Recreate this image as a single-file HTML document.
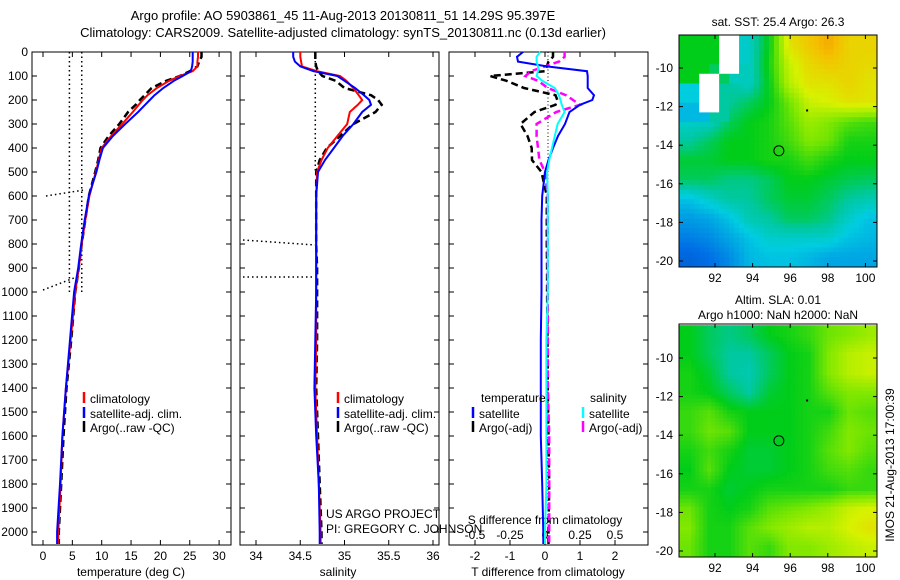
<!DOCTYPE html>
<html><head><meta charset="utf-8"><style>
body{margin:0;background:#fff;width:900px;height:580px;overflow:hidden}
svg{display:block;font-family:"Liberation Sans",sans-serif}
</style></head><body>
<svg id="chart" width="900" height="580"></svg>
<script>
const depths=[0,20,40,60,80,100,120,150,180,200,220,250,300,350,400,450,500,600,700,800,900,1000,1200,1400,1600,1800,2000,2050];
const tempClim=[26.4,26.4,26.3,26.3,25.5,23.3,21.5,19.4,17.8,17,16.3,15.3,13.5,11.6,10,9.5,9,7.9,7.2,6.6,6.1,5.5,4.7,3.9,3.3,3.0,2.6,2.6];
const tempSat=[25.5,25.5,25.5,25.4,25.2,23.8,22.3,20.5,19.0,18.2,17.4,16.2,14,11.9,10.2,9.6,9.1,7.8,7.1,6.5,6.0,5.3,4.6,3.9,3.3,2.9,2.4,2.4];
const tempArgo=[27,27,26.6,26.3,25,23.3,21,18.5,17.3,16.5,15.8,14.5,13,11.2,9.8,9.4,8.9,7.8,7.2,6.6,6.1,5.5,4.8,4.0,3.5,3.1,2.7,2.7];
const salClim=[34.5,34.5,34.51,34.52,34.69,34.95,35.02,35.1,35.16,35.2,35.15,35.06,35.03,34.92,34.81,34.74,34.69,34.68,34.68,34.68,34.68,34.68,34.68,34.67,34.69,34.71,34.73,34.73];
const salSat=[34.42,34.42,34.44,34.5,34.65,34.92,35.0,35.12,35.22,35.28,35.3,35.2,35.1,34.98,34.88,34.78,34.7,34.68,34.68,34.68,34.68,34.68,34.67,34.66,34.68,34.71,34.72,34.72];
const salArgo=[34.67,34.67,34.67,34.68,34.7,34.75,34.9,35.0,35.3,35.38,35.42,35.35,35.1,34.95,34.8,34.72,34.68,34.68,34.68,34.68,34.69,34.69,34.69,34.68,34.7,34.72,34.74,34.74];
const tDiffSat=[-0.63,-0.8,-0.77,0.05,1.2,1.22,1.22,1.22,1.4,1.35,1.0,0.7,0.57,0.37,0.23,0.1,0,-0.08,-0.1,-0.1,-0.1,-0.1,-0.12,-0.12,-0.12,-0.08,-0.05,-0.05];
const tDiffArgo=[0.23,0.23,0.1,0.05,0.0,-1.57,-1.1,-0.6,0.3,0.35,0.3,-0.3,-0.7,-0.5,-0.38,-0.37,-0.1,0.05,0.05,0.05,0.06,0.06,0.07,0.08,0.1,0.12,0.1,0.1];
const sDiffSat=[-0.035,-0.06,-0.06,-0.05,-0.05,-0.06,-0.02,0.07,0.1,0.11,0.12,0.14,0.09,0.07,0.05,0.03,0.015,0.02,0.02,0.02,0.02,0.02,0.01,0.01,0.01,0.01,0.0,0.0];
const sDiffArgo=[0.14,0.14,0.1,0.0,-0.1,-0.14,-0.05,0.02,0.15,0.2,0.25,0.08,-0.06,-0.06,-0.05,-0.04,0.0,0.02,0.02,0.02,0.02,0.02,0.02,0.02,0.03,0.03,0.03,0.03];
const depthTicks=[0,100,200,300,400,500,600,700,800,900,1000,1100,1200,1300,1400,1500,1600,1700,1800,1900,2000];
const tempTicks=[0,5,10,15,20,25,30];
const salTicks=[34,34.5,35,35.5,36];
const tdTicks=[-2,-1,0,1,2];
const sdTicks=[-0.5,-0.25,0,0.25,0.5];
const lonTicks=[92,94,96,98,100];
const latTicks=[-10,-12,-14,-16,-18,-20];
const sstGrid=[
[0.6,0.6,-1,0.45,0.6,0.85,0.9,0.95,0.88,0.88],
[0.6,0.6,-1,0.45,0.62,0.8,0.87,0.9,0.88,0.87],
[0.6,-1,0.5,0.45,0.6,0.78,0.85,0.85,0.88,0.85],
[0.25,-1,0.5,0.55,0.6,0.7,0.8,0.82,0.85,0.85],
[0.45,0.45,0.55,0.6,0.62,0.68,0.75,0.72,0.68,0.66],
[0.5,0.55,0.6,0.6,0.62,0.66,0.72,0.7,0.62,0.62],
[0.58,0.58,0.6,0.6,0.62,0.62,0.66,0.62,0.6,0.6],
[0.55,0.55,0.52,0.52,0.55,0.6,0.6,0.58,0.56,0.55],
[0.4,0.45,0.5,0.5,0.55,0.58,0.58,0.55,0.5,0.48],
[0.33,0.35,0.4,0.48,0.5,0.55,0.55,0.52,0.45,0.4],
[0.28,0.3,0.35,0.4,0.45,0.45,0.45,0.45,0.4,0.38],
[0.22,0.25,0.3,0.38,0.4,0.4,0.38,0.35,0.35,0.35]];
const slaGrid=[
[0.6,0.55,0.52,0.55,0.6,0.62,0.65,0.7,0.72,0.75],
[0.6,0.55,0.5,0.5,0.55,0.6,0.62,0.72,0.78,0.8],
[0.62,0.58,0.5,0.48,0.55,0.6,0.62,0.72,0.78,0.8],
[0.62,0.6,0.55,0.5,0.58,0.6,0.62,0.68,0.72,0.72],
[0.65,0.68,0.62,0.6,0.6,0.6,0.62,0.62,0.7,0.68],
[0.65,0.7,0.68,0.6,0.6,0.6,0.62,0.66,0.72,0.7],
[0.62,0.66,0.62,0.58,0.58,0.6,0.62,0.68,0.72,0.68],
[0.6,0.68,0.6,0.58,0.58,0.6,0.62,0.66,0.68,0.65],
[0.62,0.62,0.58,0.6,0.62,0.62,0.62,0.62,0.65,0.65],
[0.7,0.62,0.6,0.62,0.68,0.7,0.72,0.75,0.8,0.82],
[0.72,0.62,0.62,0.68,0.72,0.75,0.78,0.78,0.82,0.85],
[0.7,0.62,0.62,0.68,0.65,0.72,0.72,0.75,0.78,0.8]];

const NS='http://www.w3.org/2000/svg';
const svg=document.getElementById('chart');
function mk(tag,attrs,parent,text){const e=document.createElementNS(NS,tag);for(const k in attrs)e.setAttribute(k,attrs[k]);if(text!==undefined)e.textContent=text;(parent||svg).appendChild(e);return e;}
const yD=d=>52+0.24*d;
const xT=t=>43+5.87*t;
const xS=s=>256+88.5*(s-34);
const xTD=t=>545+35*t;
const xSD=s=>545+140*s;

function panel(x0,x1,name){
  const r=mk('rect',{x:x0,y:52,width:x1-x0,height:493,fill:'none',stroke:'#000','stroke-width':1});
  
  depthTicks.forEach(d=>{mk('line',{x1:x0,x2:x0+5,y1:yD(d),y2:yD(d),stroke:'#000'});mk('line',{x1:x1-5,x2:x1,y1:yD(d),y2:yD(d),stroke:'#000'});});
}
function xticks(ticks,fx,labelY,name,fmt,inner){
  const g=mk('g',{});
  ticks.forEach(t=>{const x=fx(t);
    if(!inner){mk('line',{x1:x,x2:x,y1:545,y2:540,stroke:'#000'},g);mk('line',{x1:x,x2:x,y1:52,y2:57,stroke:'#000'},g);}
    mk('text',{x:x,y:labelY,'text-anchor':'middle','font-size':12},g,fmt?fmt(t):String(t));});
}
function line(xs,fx,color,name,dashed){
  const pts=depths.map((d,i)=>fx(xs[i]).toFixed(1)+','+yD(d).toFixed(1)).join(' ');
  const p=mk('polyline',{points:pts,fill:'none',stroke:color,'stroke-width':dashed?2.5:2,'stroke-dasharray':dashed?'7,4':'none'});
  
}
function txt(x,y,s,name,size,anchor){const t=mk('text',{x:x,y:y,'font-size':size||12,'text-anchor':anchor||'start'},svg,s);return t;}
function legendEntry(x,y,color,label,name){const g=mk('g',{});
  mk('line',{x1:x,x2:x,y1:y-11,y2:y,stroke:color,'stroke-width':2.5},g);mk('text',{x:x+6,y:y,'font-size':12},g,label);}

txt(343,20,'Argo profile: AO 5903861_45 11-Aug-2013 20130811_51 14.29S 95.397E','title-line-1',13,'middle');
txt(343,37,'Climatology: CARS2009. Satellite-adjusted climatology: synTS_20130811.nc (0.13d earlier)','title-line-2',13,'middle');

const yl=mk('g',{});
depthTicks.forEach(d=>mk('text',{x:28,y:yD(d)+4,'text-anchor':'end','font-size':12},yl,String(d)));

panel(32,231,'temperature-panel');
xticks(tempTicks,xT,560,'temperature-x-ticks');
txt(131,576,'temperature (deg C)','temperature-x-title',12,'middle');
[[4.5],[6.6]].forEach((v,i)=>{const l=mk('line',{x1:xT(v[0]),x2:xT(v[0]),y1:52,y2:yD(1000),stroke:'#000','stroke-dasharray':'1.5,3','stroke-width':1.5});});
mk('line',{x1:46,y1:196,x2:84,y2:190,stroke:'#000','stroke-dasharray':'1.5,3','stroke-width':1.5});
mk('line',{x1:43,y1:290,x2:74,y2:278,stroke:'#000','stroke-dasharray':'1.5,3','stroke-width':1.5});
line(tempArgo,xT,'#000','temp-argo-line',true);
line(tempClim,xT,'#f00','temp-climatology-line');
line(tempSat,xT,'#00f','temp-satellite-line');
legendEntry(84,403,'#f00','climatology','legend-temp-clim');
legendEntry(84,418,'#00f','satellite-adj. clim.','legend-temp-sat');
legendEntry(84,432,'#000','Argo(..raw -QC)','legend-temp-argo');

panel(240,439,'salinity-panel');
xticks(salTicks,xS,560,'salinity-x-ticks');
txt(338,576,'salinity','salinity-x-title',12,'middle');
mk('line',{x1:xS(34.67),x2:xS(34.67),y1:52,y2:yD(500),stroke:'#000','stroke-dasharray':'1.5,3','stroke-width':1.5});
mk('line',{x1:243,y1:240,x2:315,y2:245,stroke:'#000','stroke-dasharray':'1.5,3','stroke-width':1.5});
mk('line',{x1:243,y1:277,x2:315,y2:277,stroke:'#000','stroke-dasharray':'1.5,3','stroke-width':1.5});
line(salArgo,xS,'#000','sal-argo-line',true);
line(salClim,xS,'#f00','sal-climatology-line');
line(salSat,xS,'#00f','sal-satellite-line');
legendEntry(338,403,'#f00','climatology','legend-sal-clim');
legendEntry(338,418,'#00f','satellite-adj. clim.','legend-sal-sat');
legendEntry(338,432,'#000','Argo(..raw -QC)','legend-sal-argo');
txt(326,518,'US ARGO PROJECT','project-label',12);
txt(326,533,'PI: GREGORY C. JOHNSON','pi-label',12);

panel(449,648,'difference-panel');
mk('line',{x1:548,x2:548,y1:52,y2:545,stroke:'#000','stroke-dasharray':'1,2.5','stroke-width':1});
xticks(tdTicks,xTD,560,'tdiff-x-ticks');
xticks(sdTicks,xSD,539,'sdiff-x-ticks',null,true);
txt(545,524,'S difference from climatology','sdiff-x-title',12,'middle');
txt(548,576,'T difference from climatology','tdiff-x-title',12,'middle');
line(tDiffArgo,xTD,'#000','tdiff-argo-line',true);
line(sDiffArgo,xSD,'#f0f','sdiff-argo-line',true);
line(tDiffSat,xTD,'#00f','tdiff-satellite-line');
line(sDiffSat,xSD,'#0ff','sdiff-satellite-line');
txt(481,402,'temperature','legend-temperature-header',12);
txt(590,402,'salinity','legend-salinity-header',12);
legendEntry(473,418,'#00f','satellite','legend-tdiff-sat');
legendEntry(473,432,'#000','Argo(-adj)','legend-tdiff-argo');
legendEntry(583,418,'#0ff','satellite','legend-sdiff-sat');
legendEntry(583,432,'#f0f','Argo(-adj)','legend-sdiff-argo');

const stops=[[0,[0,30,140]],[0.25,[0,110,230]],[0.42,[0,205,225]],[0.5,[0,200,160]],[0.6,[0,205,25]],[0.72,[130,232,0]],[0.82,[215,242,0]],[0.92,[245,190,0]],[1,[240,140,0]]];
function cmap(v){if(v<0)return '#fff';for(let i=1;i<stops.length;i++){if(v<=stops[i][0]){const a=stops[i-1],b=stops[i],f=(v-a[0])/(b[0]-a[0]);return 'rgb('+a[1].map((c,j)=>Math.round(c+(b[1][j]-c)*f)).join(',')+')';}}return 'rgb(240,140,0)';}
function sample(grid,fr,fc){
  const nr=grid.length,nc=grid[0].length;
  const r=Math.min(Math.max(fr-0.5,0),nr-1),c=Math.min(Math.max(fc-0.5,0),nc-1);
  const r0=Math.floor(r),c0=Math.floor(c),r1=Math.min(r0+1,nr-1),c1=Math.min(c0+1,nc-1);
  const v=[grid[r0][c0],grid[r0][c1],grid[r1][c0],grid[r1][c1]];
  if(grid[Math.min(Math.floor(fr),nr-1)][Math.min(Math.floor(fc),nc-1)]<0)return -1;
  const ok=v.filter(x=>x>=0);if(ok.length<4){return ok.length?ok.reduce((a,b)=>a+b)/ok.length:-1;}
  const dr=r-r0,dc=c-c0;
  return (v[0]*(1-dc)+v[1]*dc)*(1-dr)+(v[2]*(1-dc)+v[3]*dc)*dr;
}

function map(top,bottom,yM10,yM20,grid,name,sub){
  const x0=679,x1=877;
  const xL=lon=>715+(lon-92)*18.8;
  const yL=lat=>yM10+(lat+10)*(yM10-yM20)/10;
  const g=mk('g',{});
  const lon0=90.1,lon1=100.7,lat0=-8.3,lat1=-20.3;
  const nr=grid.length*sub,nc=grid[0].length*sub;
  for(let r=0;r<nr;r++)for(let c=0;c<nc;c++){
    const la=lat0+(lat1-lat0)*r/nr,lb=lat0+(lat1-lat0)*(r+1)/nr;
    const lo=lon0+(lon1-lon0)*c/nc,lp=lon0+(lon1-lon0)*(c+1)/nc;
    const xa=Math.max(x0,xL(lo)),xb=Math.min(x1,xL(lp)),ya=Math.max(top,yL(la)),yb=Math.min(bottom,yL(lb));
    const v=sample(grid,(r+0.5)/sub,(c+0.5)/sub);
    const cell=mk('rect',{x:xa,y:ya,width:xb-xa+0.5,height:yb-ya+0.5,fill:cmap(v)},g);
    
  }
  mk('rect',{x:x0,y:top,width:x1-x0,height:bottom-top,fill:'none',stroke:'#000'},g);
  lonTicks.forEach(l=>{const x=xL(l);mk('line',{x1:x,x2:x,y1:bottom,y2:bottom-4,stroke:'#000'},g);mk('line',{x1:x,x2:x,y1:top,y2:top+4,stroke:'#000'},g);mk('text',{x:x,y:bottom+15,'text-anchor':'middle','font-size':12},g,String(l));});
  latTicks.forEach(l=>{const y=yL(l);mk('line',{x1:x0,x2:x0+4,y1:y,y2:y,stroke:'#000'},g);mk('line',{x1:x1-4,x2:x1,y1:y,y2:y,stroke:'#000'},g);mk('text',{x:x0-6,y:y+4,'text-anchor':'end','font-size':12},g,String(l));});
  const c=mk('circle',{cx:xL(95.397),cy:yL(-14.29),r:5,fill:'none',stroke:'#000','stroke-width':1},g);
  
  mk('rect',{x:xL(96.9)-1,y:yL(-12.2)-1,width:2,height:2,fill:'#000'},g);
}
txt(778,26,'sat. SST: 25.4  Argo: 26.3','sst-map-title',12,'middle');
map(35,267,68,261,sstGrid,'sst-map',4);
txt(778,304,'Altim. SLA: 0.01','sla-map-title',12,'middle');
txt(778,319,'Argo h1000: NaN h2000: NaN','sla-map-subtitle',12,'middle');
map(324,557,358,551,slaGrid,'sla-map',5);
const ts=txt(0,0,'IMOS 21-Aug-2013 17:00:39','timestamp-label',12,'middle');
ts.setAttribute('transform','translate(894,465) rotate(-90)');
</script>
</body></html>
